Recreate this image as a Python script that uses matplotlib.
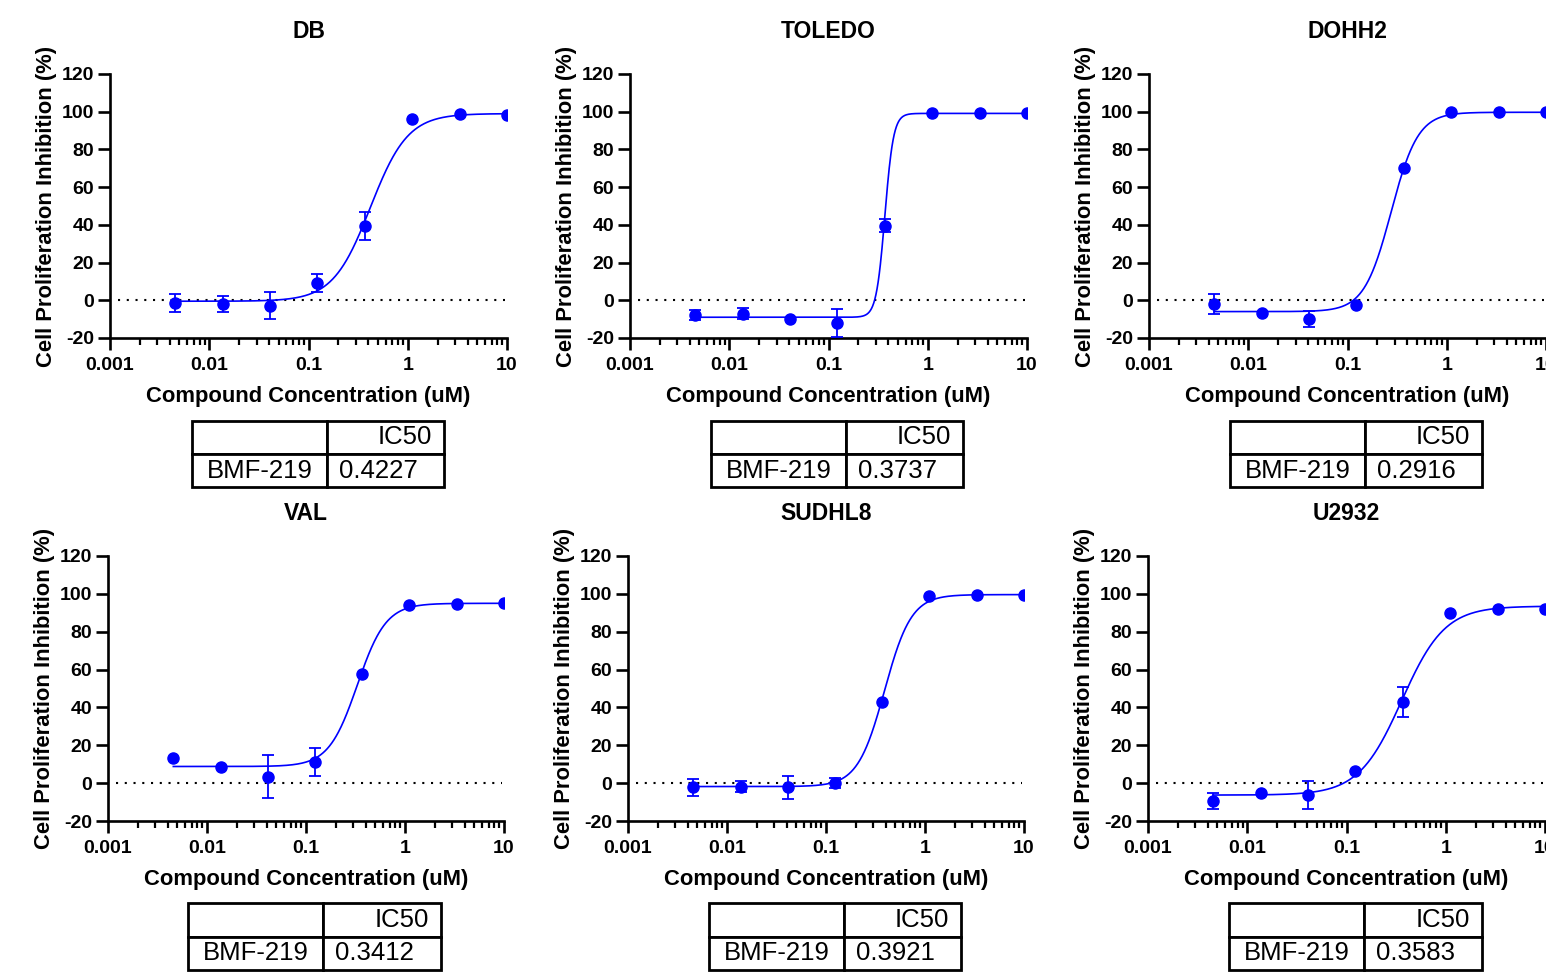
import numpy as np
import matplotlib
matplotlib.use("Agg")
import matplotlib.pyplot as plt
from matplotlib.ticker import LogLocator, FixedLocator, NullFormatter

plt.rcParams['font.family'] = ['Liberation Sans', 'DejaVu Sans']
plt.rcParams['axes.unicode_minus'] = False

# ---------------- data ----------------
conc = [0.00457, 0.0137, 0.0412, 0.123, 0.370, 1.11, 3.33, 10.0]

titles = ["DB", "TOLEDO", "DOHH2", "VAL", "SUDHL8", "U2932"]

db_y = [-1.4, -1.9, -2.8, 9.0, 39.3, 96.3, 98.8, 98.2]
db_err = [4.9, 4.2, 7.0, 4.8, 7.5, 0.0, 0.0, 0.0]
toledo_y = [-7.8, -7.1, -9.7, -12.0, 39.6, 99.1, 99.1, 99.1]
toledo_err = [2.8, 3.0, 0.0, 7.4, 3.6, 0.0, 0.0, 0.0]
dohh2_y = [-2.1, -6.5, -10.0, -2.5, 70.3, 99.6, 99.6, 99.6]
dohh2_err = [5.3, 0.0, 4.4, 0.0, 0.0, 0.0, 0.0, 0.0]
val_y = [13.1, 8.7, 3.5, 11.3, 57.7, 94.0, 94.9, 95.0]
val_err = [0.0, 0.0, 11.4, 7.5, 0.0, 0.0, 0.0, 0.0]
sudhl8_y = [-2.1, -1.8, -2.3, 0.2, 43.0, 98.9, 99.5, 99.5]
sudhl8_err = [4.5, 3.0, 6.0, 2.7, 0.0, 0.0, 0.0, 0.0]
u2932_y = [-9.6, -5.1, -6.2, 6.4, 42.8, 89.7, 91.9, 92.0]
u2932_err = [4.2, 0.0, 7.3, 0.0, 8.0, 0.0, 0.0, 0.0]

# fitted 4PL curve parameters: bottom, top, ec50, hill
fit_bottom = [-0.5, -9.0, -6.0, 8.8, -1.8, -6.3]
fit_top = [99.0, 99.1, 99.7, 95.0, 99.6, 93.5]
fit_ec50 = [0.42, 0.37, 0.275, 0.33, 0.39, 0.36]
fit_hill = [2.3, 10.0, 3.2, 3.0, 3.2, 2.0]

ic50_labels = ["0.4227", "0.3737", "0.2916", "0.3412", "0.3921", "0.3583"]
compound = "BMF-219"

x_ticks = [0.001, 0.01, 0.1, 1, 10]
x_ticklabels = ["0.001", "0.01", "0.1", "1", "10"]
y_ticks = [-20, 0, 20, 40, 60, 80, 100, 120]

series_y = [db_y, toledo_y, dohh2_y, val_y, sudhl8_y, u2932_y]
series_err = [db_err, toledo_err, dohh2_err, val_err, sudhl8_err, u2932_err]

# ---------------- layout ----------------
W, H = 1546, 974
fig = plt.figure(figsize=(W / 100, H / 100), dpi=100)
blue = "#0000FF"

axes_px = [(110, 74, 507, 338), (630, 74, 1027, 338), (1149, 74, 1546, 338),
           (108, 556, 504, 821), (628, 556, 1024, 821), (1148, 556, 1545, 821)]
table_px = [(192, 421, 444, 487), (711, 421, 963, 487), (1230, 421, 1482, 487),
            (188, 903, 441, 970), (709, 903, 961, 970), (1229, 903, 1482, 970)]

def px_rect(r):
    l, t, rr, b = r
    return [l / W, 1 - b / H, (rr - l) / W, (b - t) / H]

for i in range(6):
    ax = fig.add_axes(px_rect(axes_px[i]))
    ax.set_xscale('log')
    ax.set_xlim(0.001, 10)
    ax.set_ylim(-20, 120)
    for s in ['top', 'right']:
        ax.spines[s].set_visible(False)
    for s in ['left', 'bottom']:
        ax.spines[s].set_linewidth(1.9)

    # zero reference line
    ax.axhline(0, xmin=0.02, xmax=0.995, color='black', lw=1.5,
               linestyle=(0, (1, 3.2)), zorder=1)

    # fitted curve
    xc = np.logspace(np.log10(conc[0]), np.log10(conc[-1]), 600)
    yc = fit_bottom[i] + (fit_top[i] - fit_bottom[i]) / (1 + (fit_ec50[i] / xc) ** fit_hill[i])
    ax.plot(xc, yc, color=blue, lw=1.2, zorder=2)

    err = np.array(series_err[i])
    ax.errorbar(conc, series_y[i], yerr=np.where(err > 0, err, np.nan), fmt='none',
                ecolor=blue, elinewidth=1.3, capsize=4, capthick=1.3, zorder=3)
    ax.plot(conc, series_y[i], 'o', color=blue, ms=8, zorder=4)

    ax.xaxis.set_major_locator(FixedLocator(x_ticks))
    ax.set_xticklabels(x_ticklabels)
    ax.xaxis.set_minor_locator(LogLocator(base=10, subs=np.arange(2, 10)))
    ax.xaxis.set_minor_formatter(NullFormatter())
    ax.set_yticks(y_ticks)
    ax.tick_params(axis='both', which='major', direction='out', length=8.5, width=1.9,
                   labelsize=14, pad=3)
    ax.tick_params(axis='x', which='minor', direction='out', length=5, width=1.6)
    ax.tick_params(axis='x', which='major', pad=5)
    for lab in ax.get_xticklabels() + ax.get_yticklabels():
        lab.set_fontweight('bold')

    ax.set_xlabel("Compound Concentration (uM)", fontsize=15.8, fontweight='bold', labelpad=9)
    ax.set_ylabel("Cell Proliferation Inhibition (%)", fontsize=15.8, fontweight='bold', labelpad=3)
    ax.set_title(titles[i], fontsize=16.5, fontweight='bold', pad=26)

    # IC50 table
    tax = fig.add_axes(px_rect(table_px[i]))
    tax.axis('off')
    tbl = tax.table(cellText=[["", "IC50"], [compound, ic50_labels[i]]],
                    colWidths=[0.535, 0.465], bbox=[0, 0, 1, 1])
    tbl.auto_set_font_size(False)
    for (r, c), cell in tbl.get_celld().items():
        cell.set_linewidth(2.0)
        cell.set_edgecolor('black')
        txt = cell.get_text()
        txt.set_fontsize(18.5)
        if (r, c) == (0, 1):
            cell._loc = 'right'
            cell.PAD = 0.1
            txt.set_ha('right')
        elif (r, c) == (1, 1):
            cell._loc = 'left'
            cell.PAD = 0.1
            txt.set_ha('left')
        else:
            cell._loc = 'center'
            txt.set_ha('center')

fig.savefig("out.png", dpi=100)
